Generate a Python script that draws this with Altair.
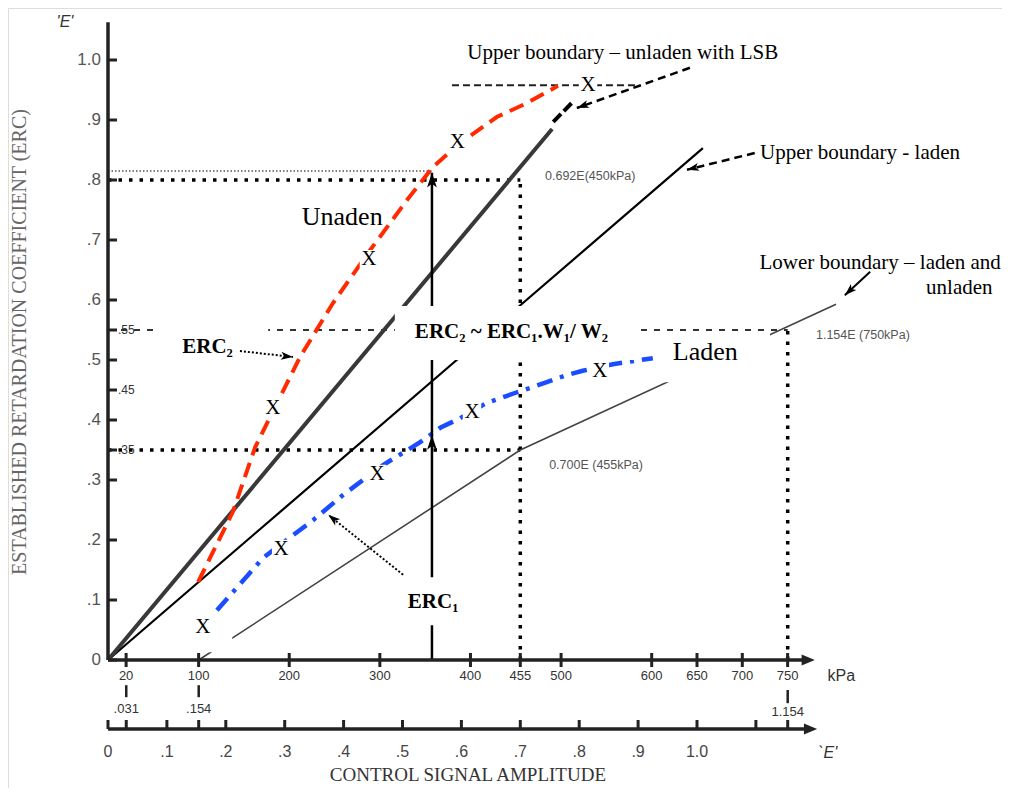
import math
import altair as alt
import pandas as pd

# ------------------------------------------------------------------
# Values  (E = control signal amplitude, R = ERC)
# ------------------------------------------------------------------
unladen_E, unladen_R = [0.0, 0.754], [0.0, 0.885]          # upper boundary unladen
lsb_E, lsb_R = [0.756, 0.789], [0.897, 0.930]              # dashed LSB continuation
laden_E, laden_R = [0.0, 1.010], [0.0, 0.853]              # upper boundary laden
lower_E, lower_R = [0.154, 0.700, 1.236], [0.0, 0.350, 0.593]  # lower boundary

erc2_E = [0.153, 0.212, 0.250, 0.326, 0.382, 0.445, 0.508, 0.552, 0.593, 0.660, 0.711, 0.764]
erc2_R = [0.130, 0.247, 0.355, 0.505, 0.595, 0.683, 0.767, 0.822, 0.858, 0.905, 0.928, 0.957]

erc1_E = [0.185, 0.263, 0.348, 0.399, 0.467, 0.530, 0.564, 0.598, 0.642, 0.691, 0.745,
          0.779, 0.806, 0.857, 0.925]
erc1_R = [0.083, 0.170, 0.233, 0.275, 0.325, 0.363, 0.387, 0.403, 0.428, 0.445, 0.463,
          0.475, 0.482, 0.493, 0.503]

xmark_E = [0.280, 0.443, 0.593, 0.815, 0.161, 0.294, 0.457, 0.618, 0.835]
xmark_R = [0.420, 0.668, 0.863, 0.958, 0.055, 0.185, 0.310, 0.413, 0.482]

arrow_E = 0.550                      # vertical ERC1 -> ERC2 arrow
arrow_top, arrow_mid = 0.812, 0.375

y_ticks = [0, .1, .2, .3, .4, .5, .6, .7, .8, .9, 1.0]
y_tick_labels = ["0", ".1", ".2", ".3", ".4", ".5", ".6", ".7", ".8", ".9", "1.0"]
y_minor = [.35, .45, .55]
y_minor_labels = [".35", ".45", ".55"]

kpa_ticks = [20, 100, 200, 300, 400, 455, 500, 600, 650, 700, 750]
kpa_labels = ["20", "100", "200", "300", "400", "455", "500", "600", "650", "700", "750"]
kpa_per_E = 650.0

e_ticks = [0, .031, .1, .154, .2, .3, .4, .5, .6, .7, .8, .9, 1.0, 1.1, 1.154]
e_label_vals = [0, .1, .2, .3, .4, .5, .6, .7, .8, .9, 1.0]
e_labels = ["0", ".1", ".2", ".3", ".4", ".5", ".6", ".7", ".8", ".9", "1.0"]

# ------------------------------------------------------------------
# Layout: linear scales, no automatic axes
# ------------------------------------------------------------------
W, H = 994, 780
PX_E, PX_R = 589.0, 600.0
X0, X1 = -100 / PX_E, (W - 100) / PX_E
Y1, Y0 = 652 / PX_R, (652 - H) / PX_R
xs = alt.Scale(domain=[X0, X1], nice=False, zero=False)
ys = alt.Scale(domain=[Y0, Y1], nice=False, zero=False)

SERIF = "Liberation Serif"
SANS = "Liberation Sans"
ARROW = "M0,0L0.8,2.4L0,1.8L-0.8,2.4Z"
TRI = "M0,0L1,2.4L-1,2.4Z"


def ex(f="E"):
    return alt.X(f"{f}:Q", scale=xs, axis=None)


def ey(f="R"):
    return alt.Y(f"{f}:Q", scale=ys, axis=None)


def segs(rows, **mark):
    df = pd.DataFrame(rows, columns=["x1", "y1", "x2", "y2"])
    return alt.Chart(df).mark_rule(**mark).encode(
        x=ex("x1"), x2="x2:Q", y=ey("y1"), y2="y2:Q")


def poly(E, R, **mark):
    df = pd.DataFrame({"E": E, "R": R, "i": list(range(len(E)))})
    return alt.Chart(df).mark_line(**mark).encode(x=ex(), y=ey(), order="i:Q")


def rects(rows):
    df = pd.DataFrame(rows, columns=["x1", "x2", "y1", "y2"])
    return alt.Chart(df).mark_rect(color="white", opacity=1).encode(
        x=ex("x1"), x2="x2:Q", y=ey("y1"), y2="y2:Q")


def texts(rows, **mark):
    df = pd.DataFrame(rows, columns=["t", "E", "R"])
    return alt.Chart(df).mark_text(baseline="middle", **mark).encode(
        x=ex(), y=ey(), text="t:N")


def heads(rows, shape=ARROW, size=100, color="black"):
    df = pd.DataFrame(rows, columns=["E", "R", "a"])
    return alt.Chart(df).mark_point(shape=shape, size=size, filled=True, opacity=1,
                                    color=color, strokeWidth=0).encode(
        x=ex(), y=ey(), angle=alt.Angle("a:Q", scale=None))


def ang(x1, y1, x2, y2):
    dx = (x2 - x1) * PX_E
    dy = -(y2 - y1) * PX_R
    return math.degrees(math.atan2(dx, -dy)) % 360


# ------------------------------------------------------------------
# Reference lines
# ------------------------------------------------------------------
ref_heavy = segs([(0, .8, .7, .8), (0, .35, .7, .35), (.7, 0, .7, .8), (1.154, 0, 1.154, .55)],
                 color="black", strokeWidth=3.5, strokeDash=[3.5, 7])
ref_55 = segs([(0, .55, 1.154, .55)], color="#333", strokeWidth=2, strokeDash=[6, 7])
ref_fine = segs([(0, .815, arrow_E, .815)], color="black", strokeWidth=1, strokeDash=[1.5, 2])
ref_top = segs([(.584, .958, .898, .958)], color="#222", strokeWidth=2, strokeDash=[7, 4])

# ------------------------------------------------------------------
# Curves
# ------------------------------------------------------------------
l_lower = poly(lower_E, lower_R, color="#444", strokeWidth=1.6)
l_laden = poly(laden_E, laden_R, color="black", strokeWidth=2.2)
l_unladen = poly(unladen_E, unladen_R, color="#383838", strokeWidth=4)
l_lsb = poly(lsb_E, lsb_R, color="black", strokeWidth=4, strokeDash=[11, 4])
l_erc2 = poly(erc2_E, erc2_R, color="#ff2a00", strokeWidth=4, strokeDash=[15, 8])
l_erc1 = poly(erc1_E, erc1_R, color="#1a4dff", strokeWidth=4.5, strokeDash=[16, 8, 4, 8])
l_arrow = segs([(arrow_E, 0, arrow_E, arrow_top)], color="black", strokeWidth=2.5)

# white boxes behind labels
boxes = rects([
    (.487, .903, .590, .500),    # formula
    (.932, 1.124, .545, .463),   # Laden
    (.088, .272, .567, .492),    # ERC2
    (.496, .615, .138, .058),    # ERC1
    (.139, .211, .075, .013),    # lower-left X
])
xdf = pd.DataFrame({"E": xmark_E, "R": xmark_R, "t": ["X"] * len(xmark_E)})
xboxes = alt.Chart(xdf).mark_square(size=340, color="white", opacity=1).encode(x=ex(), y=ey())

# ------------------------------------------------------------------
# Annotation arrows
# ------------------------------------------------------------------
a1 = (.988, .987, .796, .920)
a2 = (1.098, .845, .983, .817)
a3 = (1.294, .647, 1.251, .608)
a4 = (.224, .515, .314, .505)
a5 = (.501, .142, .374, .242)
ann_dash = segs([a1, a2], color="black", strokeWidth=2.5, strokeDash=[8, 5])
ann_solid = segs([a3], color="black", strokeWidth=2)
ann_dot = segs([a4, a5], color="black", strokeWidth=2, strokeDash=[2, 2])
ann_heads = heads([(a[2], a[3], ang(*a)) for a in (a1, a2, a3, a4, a5)], size=100)
v_heads = heads([(arrow_E, arrow_top, 0), (arrow_E, arrow_mid, 0)], size=150)

# ------------------------------------------------------------------
# Hand-drawn axes
# ------------------------------------------------------------------
AX = "#222"
y_axis = segs([(0, 0, 0, 1.063)], color=AX, strokeWidth=3.5)
y_tk = alt.Chart(pd.DataFrame({"R": y_ticks + y_minor, "E": 0})).mark_tick(
    orient="horizontal", size=9, thickness=3, xOffset=4.5, color=AX, opacity=1).encode(x=ex(), y=ey())
y_lab = texts([(t, 0, v) for t, v in zip(y_tick_labels, y_ticks)],
              align="right", dx=-7, font=SANS, fontSize=17, color="#555")
y_mlab = texts([(t, 0, v) for t, v in zip(y_minor_labels, y_minor)],
               align="left", dx=10, font=SANS, fontSize=12, color="#333")

kpa_E = [k / kpa_per_E for k in kpa_ticks]
x_axis = segs([(0, 0, 1.19, 0), (0, -.115, 1.19, -.115)], color=AX, strokeWidth=3.5)
x_heads = heads([(1.200, 0, 90), (1.204, -.115, 90)], shape=TRI, size=121, color=AX)
kpa_tk = alt.Chart(pd.DataFrame({"E": kpa_E, "R": 0})).mark_tick(
    orient="vertical", size=14, thickness=3, color=AX, opacity=1).encode(x=ex(), y=ey())
kpa_lab = texts([(t, e, -.0267) for t, e in zip(kpa_labels, kpa_E)],
                align="center", font=SANS, fontSize=13, color="#333")
e_tk = alt.Chart(pd.DataFrame({"E": e_ticks, "R": -.115})).mark_tick(
    orient="vertical", size=9, thickness=3, yOffset=-4.5, color=AX, opacity=1).encode(x=ex(), y=ey())
e_lab = texts([(t, v, -.1533) for t, v in zip(e_labels, e_label_vals)],
              align="center", font=SANS, fontSize=16, color="#444")
sub_tk = segs([(.031, -.042, .031, -.062), (.154, -.042, .154, -.062), (1.154, -.05, 1.154, -.072)],
              color=AX, strokeWidth=2.5)
sub_lab = texts([(".031", .031, -.0817), (".154", .154, -.0817), ("1.154", 1.154, -.0867)],
                align="center", font=SANS, fontSize=13, color="#333")
unit_lab = texts([("kPa", 1.245, -.027)], align="center", font=SANS, fontSize=16, color="#333")
e_unit = texts([("`E'", 1.222, -.155), ("'E'", -.073, 1.063)], align="center", font=SANS,
               fontSize=16, fontStyle="italic", color="#333")

x_title = texts([("CONTROL SIGNAL AMPLITUDE", .611, -.1917)], align="center", font=SERIF,
                fontSize=19, color="#333")
y_title = texts([("ESTABLISHED RETARDATION COEFFICIENT (ERC)", -.149, .53)], align="center",
                font=SERIF, fontSize=20, color="#666", angle=270)

# ------------------------------------------------------------------
# Annotation texts
# ------------------------------------------------------------------
t_bound = texts([("Upper boundary – unladen with LSB", .610, 1.012),
                 ("Upper boundary - laden", 1.107, .845),
                 ("Lower boundary – laden and", 1.106, .662),
                 ("unladen", 1.389, .620)],
                align="left", font=SERIF, fontSize=21, color="black")
t_big = texts([("Unaden", .329, .738), ("Laden", .959, .513)],
              align="left", font=SERIF, fontSize=26, color="black")
t_bold = texts([("ERC₂ ~ ERC₁.W₁/ W₂", .521, .547), ("ERC₂", .126, .522), ("ERC₁", .509, .097)],
               align="left", font=SERIF, fontSize=21, fontWeight="bold", color="black")
t_small = texts([("0.692E(450kPa)", .742, .807), ("0.700E (455kPa)", .749, .325),
                 ("1.154E (750kPa)", 1.202, .542)],
                align="left", font=SANS, fontSize=12.5, color="#555")
t_x = alt.Chart(xdf).mark_text(font=SERIF, fontSize=21, color="black", baseline="middle",
                               align="center").encode(x=ex(), y=ey(), text="t:N")

chart = alt.layer(
    ref_heavy, ref_55, ref_fine, ref_top,
    l_lower, l_laden, l_unladen, l_lsb, l_erc2, l_erc1, l_arrow,
    boxes, xboxes,
    ann_dash, ann_solid, ann_dot, ann_heads, v_heads,
    y_axis, y_tk, y_lab, y_mlab,
    x_axis, x_heads, kpa_tk, kpa_lab, e_tk, e_lab, sub_tk, sub_lab, unit_lab, e_unit,
    x_title, y_title,
    t_bound, t_big, t_bold, t_small, t_x,
).properties(
    width=W, height=H, autosize=alt.AutoSizeParams(type="none"), padding=0
).configure_view(stroke=None).configure(background="white")

chart.save("out.html", embed_options={"renderer": "svg", "actions": False})
